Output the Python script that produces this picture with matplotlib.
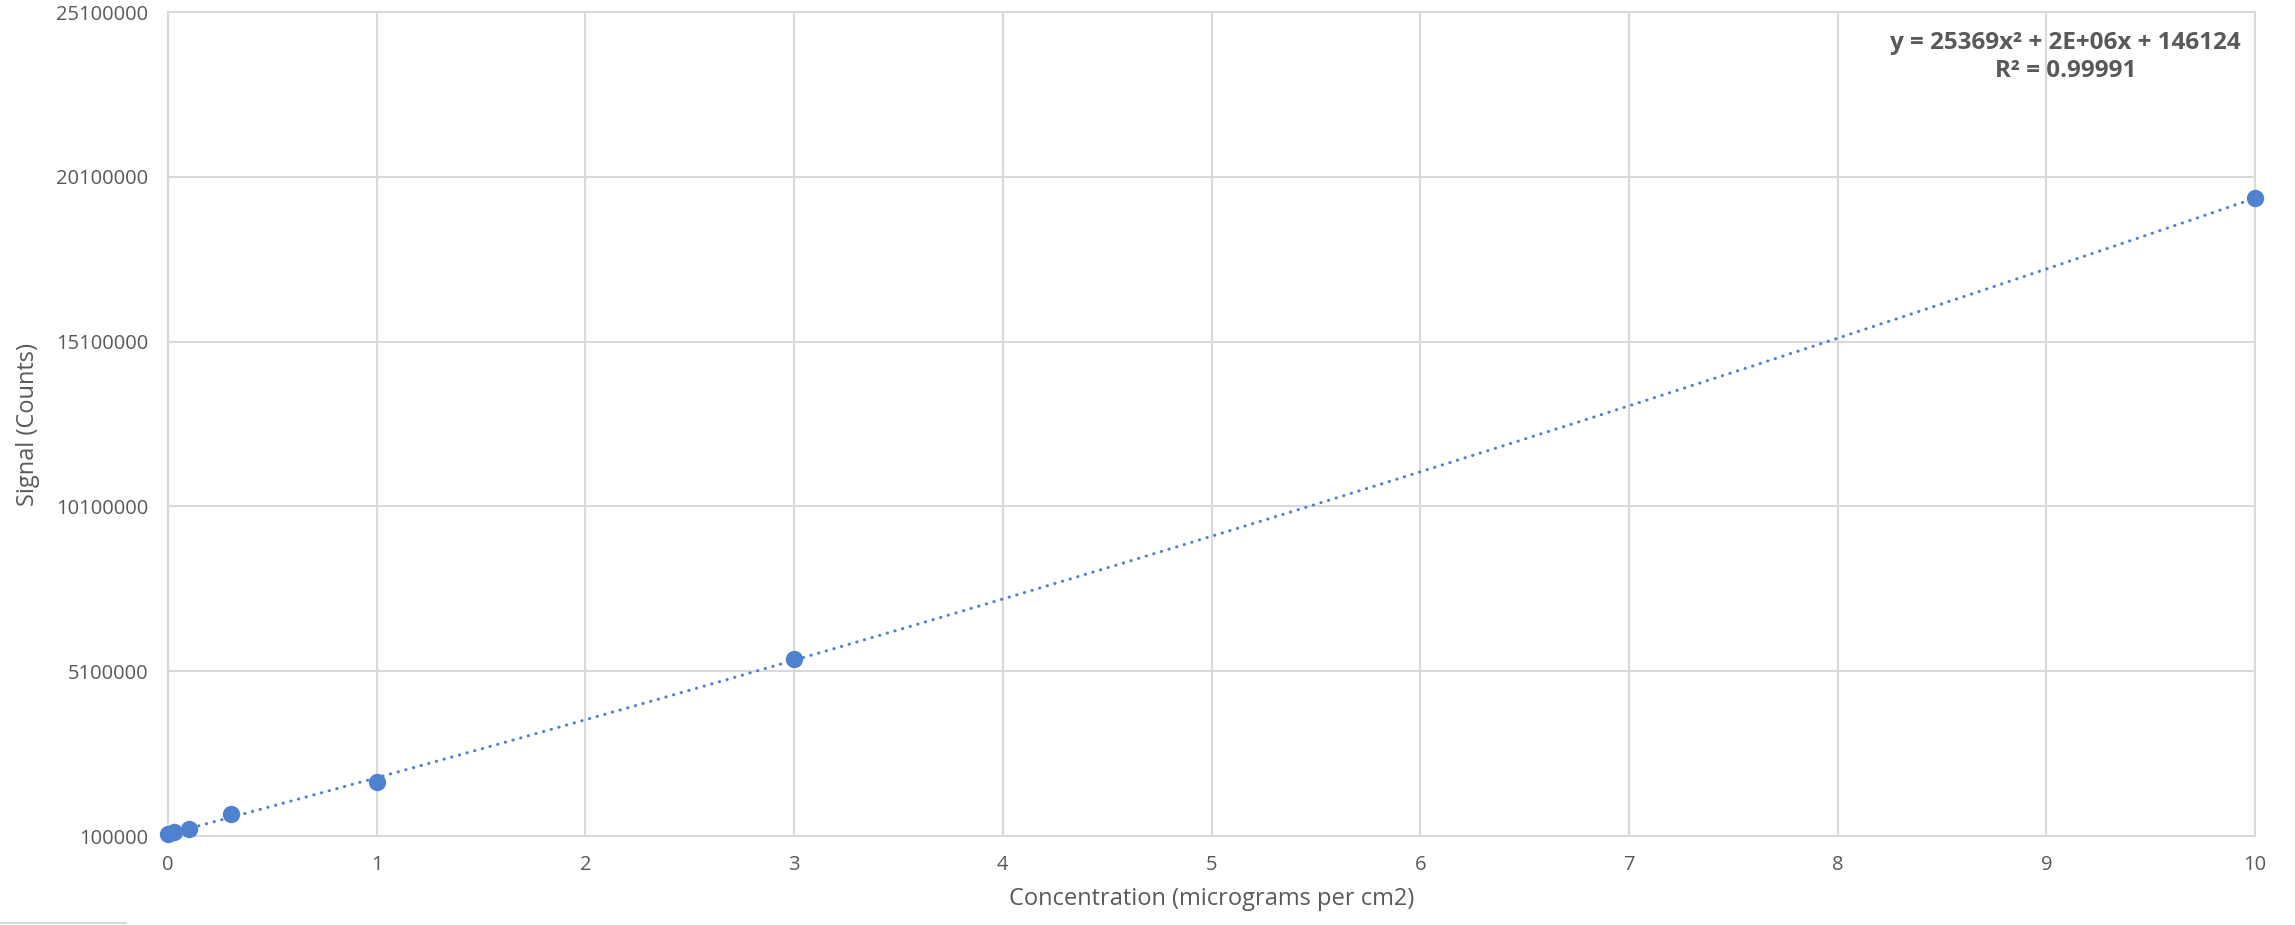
import numpy as np
import matplotlib
matplotlib.use('Agg')
import matplotlib.pyplot as plt
from matplotlib.lines import Line2D

# Données
concentration = [0, 0.03, 0.1, 0.3, 1, 3, 10]
signal = [160000, 230000, 300000, 767000, 1730000, 5480000, 19450000]
x_ticks = list(range(0, 11))
y_ticks = [100000, 5100000, 10100000, 15100000, 20100000, 25100000]
equation_text = "y = 25369x² + 2E+06x + 146124"
r2_text = "R² = 0.99991"

plt.rcParams['font.family'] = ['Open Sans', 'DejaVu Sans']
text_color = '#595959'
grid_color = '#d9d9d9'
point_color = '#4e81cf'

fig = plt.figure(figsize=(22.95, 9.25), dpi=100)
ax = fig.add_axes([0.0732, 0.0962, 0.9094, 0.8908])

# Courbe de tendance polynomiale (ordre 2)
coefs = np.polyfit(concentration, signal, 2)
x_fit = np.linspace(0, 10, 400)
ax.plot(x_fit, np.polyval(coefs, x_fit), color=point_color, lw=2.2,
        linestyle=(0, (0.1, 2.5)), dash_capstyle='round', zorder=3)

# Points de mesure
ax.plot(concentration, signal, 'o', color=point_color, markersize=12.5,
        markeredgewidth=0, zorder=4, clip_on=False)

ax.set_xlim(0, 10)
ax.set_ylim(100000, 25100000)
ax.set_xticks(x_ticks)
ax.set_yticks(y_ticks)
ax.set_yticklabels([str(v) for v in y_ticks])
ax.grid(True, color=grid_color, lw=1.5, zorder=0)
for s in ax.spines.values():
    s.set_color(grid_color)
    s.set_linewidth(1.5)
ax.tick_params(length=0, labelsize=14.5, colors=text_color, pad=14)

ax.set_xlabel("Concentration (micrograms per cm2)", fontsize=17, color=text_color, labelpad=8)
ax.set_ylabel("Signal (Counts)", fontsize=17, color=text_color, labelpad=12)

# Équation de la courbe de tendance
fig.text(0.9, 0.954, equation_text, fontsize=17.5, fontweight='bold',
         color=text_color, ha='center', va='center')
fig.text(0.9, 0.923, r2_text, fontsize=17.5, fontweight='bold',
         color=text_color, ha='center', va='center')

# Petit trait de bordure en bas à gauche
fig.add_artist(Line2D([0, 0.055], [0.002, 0.002], color=grid_color, lw=1.5,
                      transform=fig.transFigure))

plt.savefig('out.png', dpi=100)
